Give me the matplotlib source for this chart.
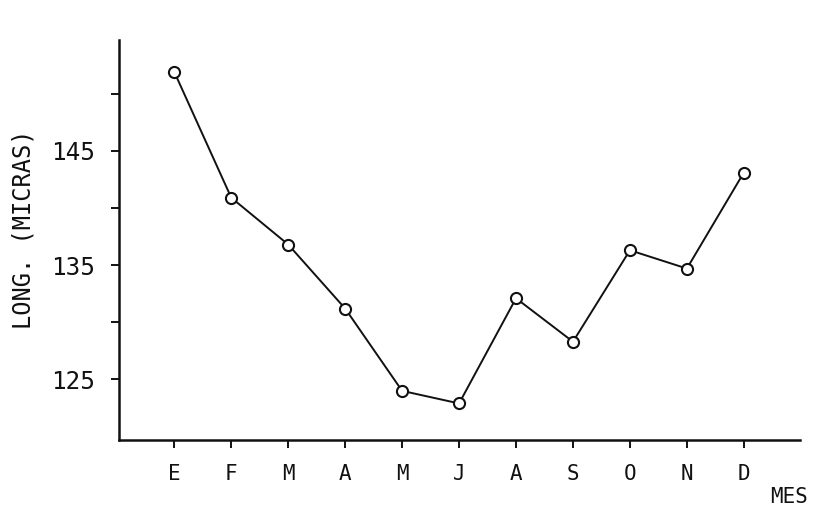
import matplotlib
matplotlib.use('Agg')
import matplotlib.pyplot as plt

# monthly mean length (micras)
meses = ['E', 'F', 'M', 'A', 'M', 'J', 'A', 'S', 'O', 'N', 'D']
longitud = [151.9, 140.9, 136.8, 131.2, 124.0, 122.9, 132.1, 128.3, 136.3, 134.7, 143.1]

y_ticks = [125, 130, 135, 140, 145, 150]
y_labels = ['125', '', '135', '', '145', '']

plt.rcParams['font.family'] = ['DejaVu Sans Mono']


def main():
    fig = plt.figure(figsize=(8.21, 5.12), dpi=100)
    ax = fig.add_axes([0.145, 0.1406, 0.829, 0.7814])

    x = list(range(len(meses)))
    ax.plot(x, longitud, color='#111111', linewidth=1.4,
            marker='o', markersize=8, markerfacecolor='white',
            markeredgecolor='#111111', markeredgewidth=1.5)

    ax.set_xlim(-0.97, 10.98)
    ax.set_ylim(119.7, 154.7)

    ax.set_xticks(x)
    ax.set_xticklabels(meses, fontsize=15)
    ax.set_yticks(y_ticks)
    ax.set_yticklabels(y_labels, fontsize=17.5)

    ax.tick_params(axis='both', direction='out', length=6, width=1.4,
                   color='#111111', labelcolor='#111111')
    ax.tick_params(axis='x', pad=11)
    ax.tick_params(axis='y', pad=11)

    for side in ['top', 'right']:
        ax.spines[side].set_visible(False)
    for side in ['left', 'bottom']:
        ax.spines[side].set_linewidth(1.8)
        ax.spines[side].set_color('#111111')

    fig.text(24 / 821, 1 - 229 / 512, 'LONG. (MICRAS)', rotation=90,
             ha='center', va='center', fontsize=17, color='#111111')
    fig.text(789 / 821, 1 - 497 / 512, 'MES', ha='center', va='center',
             fontsize=15, color='#111111')

    fig.savefig('out.png', dpi=100, facecolor='white')


if __name__ == '__main__':
    main()
